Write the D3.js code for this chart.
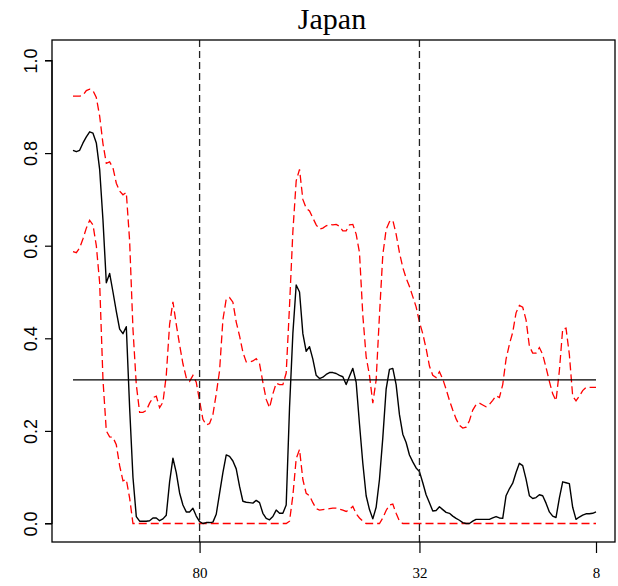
<!DOCTYPE html>
<html>
<head>
<meta charset="utf-8">
<script src="https://cdn.jsdelivr.net/npm/d3@7"></script>
<style>
  html, body { margin: 0; padding: 0; background: #fff; }
  svg { display: block; }
</style>
</head>
<body>
<svg id="chart" width="618" height="586"></svg>
<script>
// Rolling estimate for Japan with its upper and lower bounds (index = window position)
const estimate = [
  0.806, 0.803, 0.806, 0.822, 0.835, 0.846, 0.843, 0.822, 0.765, 0.655,
  0.520, 0.540, 0.500, 0.458, 0.420, 0.410, 0.425, 0.250, 0.100, 0.015,
  0.005, 0.005, 0.005, 0.006, 0.012, 0.012, 0.006, 0.010, 0.018, 0.090,
  0.141, 0.110, 0.066, 0.040, 0.025, 0.025, 0.033, 0.016, 0.004, 0.000,
  0.002, 0.002, 0.003, 0.020, 0.065, 0.110, 0.148, 0.145, 0.135, 0.118,
  0.080, 0.048, 0.046, 0.045, 0.044, 0.050, 0.045, 0.022, 0.011, 0.008,
  0.015, 0.029, 0.022, 0.022, 0.040, 0.250, 0.410, 0.515, 0.500, 0.410,
  0.372, 0.382, 0.355, 0.320, 0.313, 0.316, 0.322, 0.326, 0.326, 0.324,
  0.320, 0.317, 0.300, 0.318, 0.335, 0.305, 0.215, 0.130, 0.060, 0.030,
  0.010, 0.035, 0.095, 0.185, 0.290, 0.333, 0.335, 0.300, 0.235, 0.193,
  0.175, 0.148, 0.133, 0.120, 0.112, 0.088, 0.062, 0.045, 0.027, 0.028,
  0.036, 0.030, 0.024, 0.022, 0.016, 0.011, 0.007, 0.002, 0.000, 0.000,
  0.005, 0.009, 0.009, 0.009, 0.009, 0.009, 0.012, 0.015, 0.012, 0.011,
  0.060, 0.075, 0.087, 0.110, 0.130, 0.125, 0.096, 0.060, 0.054, 0.056,
  0.062, 0.060, 0.044, 0.025, 0.016, 0.013, 0.055, 0.090, 0.088, 0.086,
  0.035, 0.009, 0.014, 0.018, 0.021, 0.021, 0.022, 0.025
];

const upper = [
  0.923, 0.923, 0.923, 0.925, 0.935, 0.938, 0.935, 0.920, 0.880, 0.820,
  0.778, 0.781, 0.768, 0.735, 0.718, 0.710, 0.715, 0.610, 0.420, 0.300,
  0.240, 0.240, 0.244, 0.260, 0.272, 0.275, 0.250, 0.262, 0.320, 0.430,
  0.479, 0.430, 0.386, 0.345, 0.315, 0.307, 0.320, 0.305, 0.265, 0.225,
  0.213, 0.216, 0.235, 0.280, 0.330, 0.440, 0.485, 0.488, 0.478, 0.435,
  0.405, 0.370, 0.349, 0.349, 0.351, 0.356, 0.345, 0.305, 0.268, 0.250,
  0.280, 0.303, 0.300, 0.300, 0.325, 0.470, 0.630, 0.740, 0.765, 0.700,
  0.681, 0.675, 0.660, 0.645, 0.636, 0.638, 0.643, 0.646, 0.645, 0.646,
  0.642, 0.632, 0.632, 0.645, 0.646, 0.625, 0.585, 0.450, 0.360, 0.320,
  0.260, 0.310, 0.450, 0.580, 0.635, 0.652, 0.655, 0.625, 0.585, 0.553,
  0.530, 0.512, 0.490, 0.468, 0.435, 0.410, 0.378, 0.340, 0.320, 0.315,
  0.328, 0.312, 0.290, 0.266, 0.245, 0.226, 0.212, 0.206, 0.208, 0.222,
  0.245, 0.257, 0.260, 0.256, 0.252, 0.257, 0.266, 0.276, 0.272, 0.300,
  0.355, 0.387, 0.413, 0.455, 0.471, 0.467, 0.440, 0.383, 0.368, 0.368,
  0.380, 0.365, 0.337, 0.307, 0.280, 0.265, 0.330, 0.420, 0.422, 0.365,
  0.275, 0.265, 0.275, 0.287, 0.294, 0.294, 0.294, 0.294
];

const lower = [
  0.587, 0.585, 0.595, 0.615, 0.638, 0.655, 0.645, 0.600, 0.520, 0.310,
  0.200, 0.187, 0.186, 0.170, 0.125, 0.092, 0.095, 0.055, 0.000, 0.000,
  0.000, 0.000, 0.000, 0.000, 0.000, 0.000, 0.000, 0.000, 0.000, 0.000,
  0.000, 0.000, 0.000, 0.000, 0.000, 0.000, 0.000, 0.000, 0.000, 0.000,
  0.000, 0.000, 0.000, 0.000, 0.000, 0.000, 0.000, 0.000, 0.000, 0.000,
  0.000, 0.000, 0.000, 0.000, 0.000, 0.000, 0.000, 0.000, 0.000, 0.000,
  0.000, 0.000, 0.000, 0.000, 0.000, 0.005, 0.060, 0.140, 0.160, 0.095,
  0.065, 0.060, 0.045, 0.032, 0.029, 0.030, 0.031, 0.032, 0.033, 0.033,
  0.031, 0.029, 0.026, 0.030, 0.037, 0.021, 0.012, 0.005, 0.000, 0.000,
  0.000, 0.000, 0.000, 0.012, 0.028, 0.040, 0.042, 0.022, 0.005, 0.000,
  0.000, 0.000, 0.000, 0.000, 0.000, 0.000, 0.000, 0.000, 0.000, 0.000,
  0.000, 0.000, 0.000, 0.000, 0.000, 0.000, 0.000, 0.000, 0.000, 0.000,
  0.000, 0.000, 0.000, 0.000, 0.000, 0.000, 0.000, 0.000, 0.000, 0.000,
  0.000, 0.000, 0.000, 0.000, 0.000, 0.000, 0.000, 0.000, 0.000, 0.000,
  0.000, 0.000, 0.000, 0.000, 0.000, 0.000, 0.000, 0.000, 0.000, 0.000,
  0.000, 0.000, 0.000, 0.000, 0.000, 0.000, 0.000, 0.000
];

const referenceLevel = 0.31;           // horizontal reference line
const markerIndex = [38, 104];         // vertical dashed markers
const xTickIndex = [38, 104, 157];
const xTickLabels = ["80", "32", "8"];
const yTickValues = [0, 0.2, 0.4, 0.6, 0.8, 1.0];
const yTickLabels = ["0.0", "0.2", "0.4", "0.6", "0.8", "1.0"];
const title = "Japan";

// plot region
const box = { left: 52, right: 615, top: 40, bottom: 542 };

const svg = d3.select("#chart");

const x = d3.scaleLinear().domain([0, estimate.length - 1]).range([73, 596]);
const y = d3.scaleLinear().domain([0, 1]).range([523.5, 60.5]);

const line = d3.line().x((d, i) => x(i)).y(d => y(d));

// bounds
[upper, lower].forEach(series => {
  svg.append("path")
    .datum(series)
    .attr("d", line)
    .attr("fill", "none")
    .attr("stroke", "#ff0000")
    .attr("stroke-width", 1.3)
    .attr("stroke-dasharray", "8,4");
});

// estimate
svg.append("path")
  .datum(estimate)
  .attr("d", line)
  .attr("fill", "none")
  .attr("stroke", "#000")
  .attr("stroke-width", 1.4)
  .attr("stroke-linejoin", "round");

// reference level across the sample
svg.append("path")
  .datum(estimate.map(() => referenceLevel))
  .attr("d", line)
  .attr("fill", "none")
  .attr("stroke", "#000")
  .attr("stroke-width", 1.3);

// vertical markers
svg.selectAll("line.marker")
  .data(markerIndex)
  .enter().append("line")
  .attr("class", "marker")
  .attr("x1", d => x(d)).attr("x2", d => x(d))
  .attr("y1", box.top).attr("y2", box.bottom)
  .attr("stroke", "#222")
  .attr("stroke-width", 1.3)
  .attr("stroke-dasharray", "7,4");

// frame
svg.append("rect")
  .attr("x", box.left).attr("y", box.top)
  .attr("width", box.right - box.left).attr("height", box.bottom - box.top)
  .attr("fill", "none").attr("stroke", "#000").attr("stroke-width", 1.3);

// y axis
const yAxis = d3.axisLeft(y)
  .tickValues(yTickValues)
  .tickFormat((d, i) => yTickLabels[i])
  .tickSize(7)
  .tickPadding(10);
const gy = svg.append("g")
  .attr("transform", `translate(${box.left},0)`)
  .call(yAxis);
gy.select(".domain").attr("stroke", "#000").attr("stroke-width", 1.2)
  .attr("d", `M-7,${y(0)}H0V${y(1)}H-7`);
gy.selectAll(".tick line").attr("stroke", "#000").attr("stroke-width", 1.2);
gy.selectAll(".tick text")
  .attr("font-family", "Liberation Sans, Arial, sans-serif")
  .attr("font-size", 18)
  .attr("fill", "#000")
  .attr("text-anchor", "middle")
  .attr("x", null)
  .attr("transform", "translate(-15,0) rotate(-90)")
  .attr("dy", "0");

// x axis
const xAxis = d3.axisBottom(x)
  .tickValues(xTickIndex)
  .tickFormat((d, i) => xTickLabels[i])
  .tickSize(11)
  .tickPadding(14);
const gx = svg.append("g")
  .attr("transform", `translate(0,${box.bottom})`)
  .call(xAxis);
gx.select(".domain").remove();
gx.selectAll(".tick line").attr("stroke", "#000").attr("stroke-width", 1.2);
gx.selectAll(".tick text")
  .attr("font-family", "Liberation Serif, Times New Roman, serif")
  .attr("font-size", 15)
  .attr("fill", "#000");

// title
svg.append("text")
  .attr("x", 332).attr("y", 29)
  .attr("text-anchor", "middle")
  .attr("font-family", "Liberation Serif, Times New Roman, serif")
  .attr("font-size", 30)
  .attr("fill", "#000")
  .text(title);
</script>
</body>
</html>
